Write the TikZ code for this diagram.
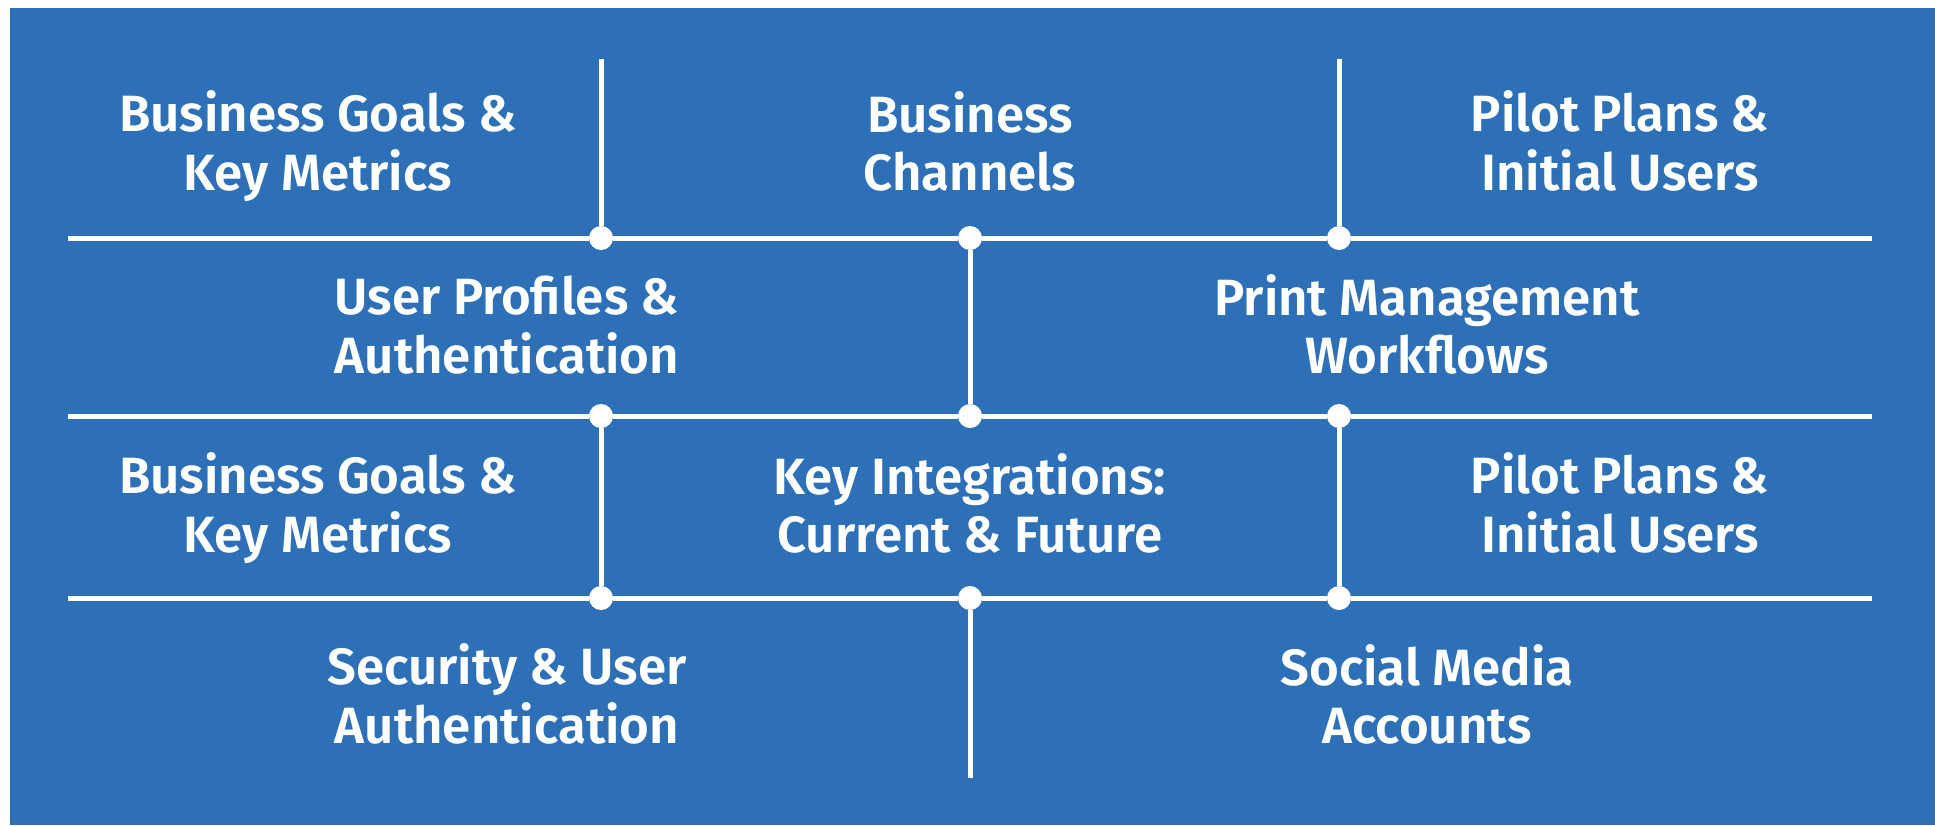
\documentclass[tikz,border=0pt]{standalone}
\usepackage{fontspec}
\setmainfont{Fira Sans}
\newfontfamily\cellfont{Fira Sans SemiBold}
\definecolor{panelblue}{RGB}{45,112,183}
\tikzset{
	cell/.style={text=white, align=center, inner sep=0pt, font=\cellfont\fontsize{51}{58}\selectfont},
	joint/.style={circle, fill=white, inner sep=0pt, minimum size=24pt},
	rule/.style={white, line width=5pt},
}
\begin{document}
\begin{tikzpicture}[x=1pt, y=-1pt]
	\useasboundingbox (0,0) rectangle (1935,825);
	\fill [panelblue] (10,8) rectangle (1935,825);

	\node (goalsTop) [cell] at (318,149.4) {\strut Business Goals \&\\Key Metrics\strut};
	\node (channels) [cell] at (970,149.4) {\strut Business\\Channels\strut};
	\node (pilotTop) [cell] at (1620,149.4) {\strut Pilot Plans \&\\Initial Users\strut};

	\node (profiles) [cell] at (507,332.4) {\strut User Profiles \&\\Authentication\strut};
	\node (printing) [cell] at (1427,332.4) {\strut Print Management\\Workflows\strut};

	\node (goalsLow) [cell] at (318,511.4) {\strut Business Goals \&\\Key Metrics\strut};
	\node (integrations) [cell] at (970,511.4) {\strut Key Integrations:\\Current \& Future\strut};
	\node (pilotLow) [cell] at (1620,511.4) {\strut Pilot Plans \&\\Initial Users\strut};

	\node (security) [cell] at (507,702.4) {\strut Security \& User\\Authentication\strut};
	\node (social) [cell] at (1427,702.4) {\strut Social Media\\Accounts\strut};

	\foreach \y [count=\r] in {238,416,598}
		\foreach \x [count=\c] in {601,970,1339}
			\node (j\r\c) [joint] at (\x,\y) {};

	\coordinate (westA) at (68,238);
	\coordinate (eastA) at (1872,238);
	\coordinate (westB) at (68,416);
	\coordinate (eastB) at (1872,416);
	\coordinate (westC) at (68,598);
	\coordinate (eastC) at (1872,598);
	\coordinate (northL) at (601,59);
	\coordinate (northR) at (1339,59);
	\coordinate (southM) at (970,778);

	\draw [rule] (westA) -- (j11) -- (j12) -- (j13) -- (eastA);
	\draw [rule] (westB) -- (j21) -- (j22) -- (j23) -- (eastB);
	\draw [rule] (westC) -- (j31) -- (j32) -- (j33) -- (eastC);
	\draw [rule] (northL) -- (j11);
	\draw [rule] (northR) -- (j13);
	\draw [rule] (j12) -- (j22);
	\draw [rule] (j21) -- (j31);
	\draw [rule] (j23) -- (j33);
	\draw [rule] (j32) -- (southM);
\end{tikzpicture}
\end{document}
